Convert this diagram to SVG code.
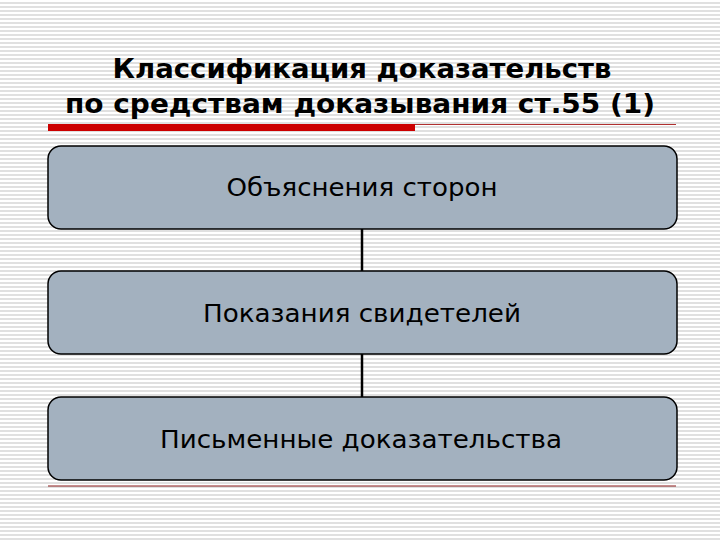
<svg xmlns="http://www.w3.org/2000/svg" width="720" height="540" viewBox="0 0 720 540">
<defs>
<pattern id="stripes" width="8" height="4" patternUnits="userSpaceOnUse">
<rect width="8" height="4" fill="#ffffff"/>
<rect y="2" width="8" height="2" fill="#e0e0e0"/>
</pattern>
<style>
.box{fill:#a3b1bf;stroke:#000;stroke-width:1.5}
.lbl{font-family:"DejaVu Sans","Noto Sans",sans-serif;font-size:24px;fill:#000;text-anchor:middle}
.ttl{font-family:"DejaVu Sans","Noto Sans",sans-serif;font-weight:bold;font-size:27px;fill:#000;text-anchor:middle}
.conn{stroke:#000;stroke-width:2.5;fill:none}
</style>
</defs>
<rect width="720" height="540" fill="url(#stripes)"/>
<g id="title">
<text class="ttl" x="362" y="78" textLength="499" lengthAdjust="spacingAndGlyphs">Классификация доказательств</text>
<text class="ttl" x="360" y="113" textLength="590" lengthAdjust="spacingAndGlyphs">по средствам доказывания ст.55 (1)</text>
</g>
<g id="rules">
<rect x="48" y="124" width="367" height="7" fill="#cc0000"/>
<line x1="415" y1="124.5" x2="676" y2="124.5" stroke="#b03030" stroke-width="1"/>
<line x1="48" y1="486" x2="676" y2="486" stroke="#8b1a1a" stroke-width="1"/>
</g>
<g id="connectors">
<line class="conn" x1="362" y1="229" x2="362" y2="271"/>
<line class="conn" x1="362" y1="354" x2="362" y2="397"/>
</g>
<g id="node1">
<rect class="box" x="48" y="146" width="629" height="83" rx="13"/>
<text class="lbl" x="362" y="196" textLength="271" lengthAdjust="spacingAndGlyphs">Объяснения сторон</text>
</g>
<g id="node2">
<rect class="box" x="48" y="271" width="629" height="83" rx="13"/>
<text class="lbl" x="362" y="322" textLength="318" lengthAdjust="spacingAndGlyphs">Показания свидетелей</text>
</g>
<g id="node3">
<rect class="box" x="48" y="397" width="629" height="83" rx="13"/>
<text class="lbl" x="361" y="448" textLength="402" lengthAdjust="spacingAndGlyphs">Письменные доказательства</text>
</g>
</svg>
